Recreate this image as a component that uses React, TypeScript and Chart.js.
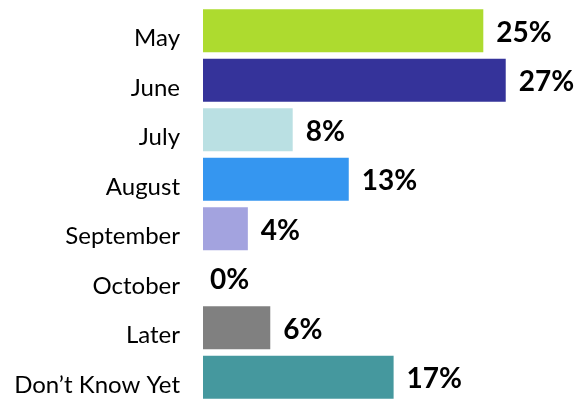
import React, { useEffect, useRef } from "react";
import { Chart, registerables } from "chart.js";

Chart.register(...registerables);

const categories = ["May", "June", "July", "August", "September", "October", "Later", "Don\u2019t Know Yet"];
const values = [25, 27, 8, 13, 4, 0, 6, 17];
const valueLabels = ["25%", "27%", "8%", "13%", "4%", "0%", "6%", "17%"];
const barColors = ["#ADDB2F", "#35339A", "#BAE0E3", "#3596F0", "#A3A3DF", "#A3A3DF", "#808080", "#45989E"];

const valueLabelPlugin = {
  id: "valueLabels",
  afterDatasetsDraw(chart: any) {
    const ctx = chart.ctx;
    const meta = chart.getDatasetMeta(0);
    ctx.save();
    ctx.font = "bold 28px Lato";
    ctx.fillStyle = "#000000";
    ctx.textAlign = "left";
    ctx.textBaseline = "middle";
    meta.data.forEach((bar: any, i: number) => {
      const gap = values[i] === 0 ? 7 : 13;
      ctx.fillText(valueLabels[i], bar.x + gap, bar.y + 2);
    });
    ctx.restore();
  },
};

export default function App() {
  const canvasRef = useRef<HTMLCanvasElement | null>(null);

  useEffect(() => {
    if (!canvasRef.current) return;
    const chart = new Chart(canvasRef.current, {
      type: "bar",
      data: {
        labels: categories,
        datasets: [
          {
            data: values,
            backgroundColor: barColors,
            borderWidth: 0,
            barPercentage: 0.87,
            categoryPercentage: 1,
          },
        ],
      },
      options: {
        indexAxis: "y",
        animation: false,
        responsive: false,
        layout: { padding: { top: 6, bottom: 2, right: 9, left: 0 } },
        plugins: {
          legend: { display: false },
          tooltip: { enabled: false },
        },
        scales: {
          x: {
            display: false,
            min: 0,
            max: 33,
          },
          y: {
            afterFit: (scale: any) => {
              scale.width = 203;
              scale.paddingTop = 0;
              scale.paddingBottom = 0;
            },
            grid: { display: false, drawTicks: false },
            border: { display: false },
            ticks: {
              color: "#000000",
              font: { family: "Lato", size: 24 },
              padding: 23,
              labelOffset: 8,
              autoSkip: false,
            },
          },
        },
      },
      plugins: [valueLabelPlugin],
    });
    return () => chart.destroy();
  }, []);

  return (
    <div style={{ position: "fixed", left: 0, top: 0, width: 582, height: 404, background: "#ffffff" }}>
      <canvas ref={canvasRef} width={582} height={404} style={{ width: 582, height: 404 }} />
    </div>
  );
}
